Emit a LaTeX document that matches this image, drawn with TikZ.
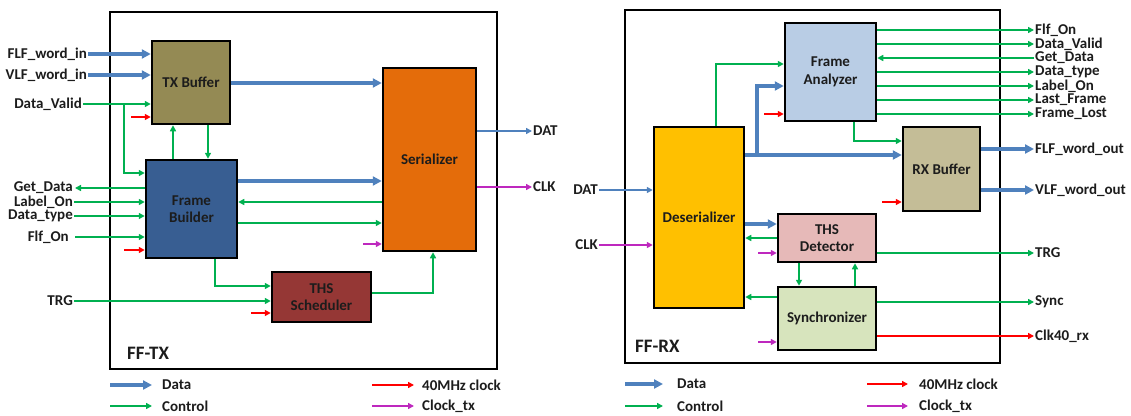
\documentclass[tikz,border=0pt]{standalone}
\usepackage{fontspec}
\setmainfont{Carlito}
\usetikzlibrary{arrows.meta}

\definecolor{ink}{RGB}{28,28,28}
\definecolor{cdata}{RGB}{79,129,189}
\definecolor{cctrl}{RGB}{0,176,80}
\definecolor{cclk}{RGB}{255,0,0}
\definecolor{cclktx}{RGB}{190,40,190}
\definecolor{ftxb}{RGB}{148,138,84}
\definecolor{ffb}{RGB}{56,94,146}
\definecolor{fser}{RGB}{228,108,10}
\definecolor{fths}{RGB}{149,55,53}
\definecolor{ffa}{RGB}{185,205,229}
\definecolor{fdes}{RGB}{255,192,0}
\definecolor{frxb}{RGB}{196,189,151}
\definecolor{fthsd}{RGB}{230,185,184}
\definecolor{fsyn}{RGB}{215,228,189}

\begin{document}
\begin{tikzpicture}[x=1pt,y=-1pt,
  font=\fontsize{15}{17.5}\selectfont\bfseries,
  box/.style={draw=black, line width=2.5pt, text=ink, align=center, inner sep=0pt},
  frame/.style={draw=black, line width=2pt, inner sep=0pt},
  lbl/.style={text=ink, inner sep=1pt},
  title/.style={text=ink, inner sep=0pt, font=\fontsize{19}{22}\selectfont\bfseries},
  data/.style={draw=cdata, line width=3.2pt, -{Triangle[length=9pt,width=9pt]}},
  datathin/.style={draw=cdata, line width=1.5pt, -{Triangle[length=6pt,width=6pt]}},
  ctrl/.style={draw=cctrl, line width=1.5pt, -{Triangle[length=6pt,width=6pt]}},
  clkforty/.style={draw=cclk, line width=1.5pt, -{Triangle[length=6pt,width=6pt]}},
  clktx/.style={draw=cclktx, line width=1.5pt, -{Triangle[length=6pt,width=6pt]}}]

\path[use as bounding box] (0,0) rectangle (1131,415);

% ---------------- FF-TX ----------------
\node[frame, minimum width=387pt, minimum height=357pt] (fftx) at (303.5,190.5) {};
\node[title, anchor=west] (fftxt) at (127,353) {FF-TX};

\node[box, fill=ftxb, minimum width=78pt, minimum height=83pt] (txb) at (191,82.5) {TX Buffer};
\node[box, fill=ffb, minimum width=91pt, minimum height=98pt] (fb) at (191.5,209) {Frame\\Builder};
\node[box, fill=fser, minimum width=93pt, minimum height=183pt] (ser) at (429.5,159.5) {Serializer};
\node[box, fill=fths, minimum width=99pt, minimum height=50pt] (ths) at (321.5,297) {THS\\Scheduler};

% inputs of the TX buffer
\node[lbl, anchor=east] (flfin) at (88,54) {FLF\_word\_in};
\node[lbl, anchor=east] (vlfin) at (88,75) {VLF\_word\_in};
\node[lbl, anchor=east] (dvin) at (83,104) {Data\_Valid};
\draw[data] (flfin.east) -- (flfin.east -| txb.west);
\draw[data] (vlfin.east) -- (vlfin.east -| txb.west);
\draw[ctrl] (dvin.east) -- (dvin.east -| txb.west);
\coordinate (dvbranch) at (124,104);
\draw[ctrl] (dvbranch) |- (fb.west |- 0,173);
\coordinate (clkA) at (131,117);
\draw[clkforty] (clkA) -- (clkA -| txb.west);

% TX buffer <-> frame builder
\draw[ctrl] (fb.north -| 173,0) -- (txb.south -| 173,0);
\draw[ctrl] (txb.south -| 208,0) -- (fb.north -| 208,0);
\draw[data] (txb.east |- 0,83) -- (ser.west |- 0,83);

% frame builder ports
\node[lbl, anchor=east] (gdout) at (74,188) {Get\_Data};
\node[lbl, anchor=east] (lonin) at (74,202) {Label\_On};
\node[lbl, anchor=east] (dtin) at (74,216) {Data\_type};
\node[lbl, anchor=east] (flfon) at (70,237) {Flf\_On};
\draw[ctrl] (fb.west |- gdout.east) -- ([xshift=1pt]gdout.east);
\draw[ctrl] (lonin.east) -- (lonin.east -| fb.west);
\draw[ctrl] (dtin.east) -- (dtin.east -| fb.west);
\draw[ctrl] ([xshift=5pt]flfon.east) -- (flfon.east -| fb.west);
\coordinate (clkB) at (124,250);
\draw[clkforty] (clkB) -- (clkB -| fb.west);

% frame builder <-> serializer
\draw[data] (fb.east |- 0,181) -- (ser.west |- 0,181);
\draw[ctrl] (ser.west |- 0,202) -- (fb.east |- 0,202);
\draw[ctrl] (fb.east |- 0,223) -- (ser.west |- 0,223);
\coordinate (txclkA) at (363,244);
\draw[clktx] (txclkA) -- (txclkA -| ser.west);

% THS scheduler
\draw[ctrl] (fb.south -| 215,0) |- (ths.west |- 0,286);
\node[lbl, anchor=east] (trgin) at (74,301) {TRG};
\draw[ctrl] (trgin.east) -- (trgin.east -| ths.west);
\coordinate (clkC) at (251,313);
\draw[clkforty] (clkC) -- (clkC -| ths.west);
\draw[ctrl] (ths.east |- 0,293) -| (ser.south -| 433,0);

% serializer outputs
\node[lbl, anchor=west] (datout) at (532,131) {DAT};
\node[lbl, anchor=west] (clkout) at (532,187) {CLK};
\draw[datathin] (ser.east |- datout.west) -- (datout.west);
\draw[clktx] (ser.east |- clkout.west) -- (clkout.west);

% ---------------- FF-RX ----------------
\node[frame, minimum width=375pt, minimum height=353pt] (ffrx) at (812.5,186.5) {};
\node[title, anchor=west] (ffrxt) at (635,346) {FF-RX};

\node[box, fill=ffa, minimum width=91pt, minimum height=98pt] (fa) at (830.5,72) {Frame\\Analyzer};
\node[box, fill=fdes, minimum width=90pt, minimum height=181pt] (des) at (699,217.5) {Deserializer};
\node[box, fill=frxb, minimum width=77pt, minimum height=84pt] (rxb) at (941.5,169) {RX Buffer};
\node[box, fill=fthsd, minimum width=98pt, minimum height=48pt] (thsd) at (827,238) {THS\\Detector};
\node[box, fill=fsyn, minimum width=98pt, minimum height=63pt] (syn) at (827,318.5) {Synchronizer};

% deserializer inputs
\node[lbl, anchor=east] (datin) at (599,190) {DAT};
\node[lbl, anchor=east] (clkin) at (599,245) {CLK};
\draw[datathin] (datin.east) -- (datin.east -| des.west);
\draw[clktx] (clkin.east) -- (clkin.east -| des.west);

% deserializer -> frame analyzer / RX buffer
\draw[ctrl] (des.north -| 716,0) |- (fa.west |- 0,64);
\draw[data] (des.east |- 0,155) -- (rxb.west |- 0,155);
\coordinate (dbranch) at (757,155);
\draw[data] (dbranch) |- (fa.west |- 0,86);
\coordinate (clkD) at (764,114);
\draw[clkforty] (clkD) -- (clkD -| fa.west);
\draw[ctrl] (fa.south -| 854,0) |- (rxb.west |- 0,141);

% frame analyzer status lines
\foreach \yy/\tt in {30/Flf\_On, 44/Data\_Valid, 72/Data\_type, 86/Label\_On, 100/Last\_Frame, 114/Frame\_Lost}{
  \node[lbl, anchor=west] (st\yy) at (1034,\yy) {\tt};
  \draw[ctrl] (fa.east |- st\yy.west) -- (st\yy.west);
}
\node[lbl, anchor=west] (gdin) at (1034,58) {Get\_Data};
\draw[ctrl] (gdin.west) -- (gdin.west -| fa.east);

% RX buffer outputs
\node[lbl, anchor=west] (flfout) at (1034,149) {FLF\_word\_out};
\node[lbl, anchor=west] (vlfout) at (1034,190) {VLF\_word\_out};
\draw[data] (rxb.east |- flfout.west) -- (flfout.west);
\draw[data] (rxb.east |- vlfout.west) -- (vlfout.west);
\coordinate (clkE) at (882,202);
\draw[clkforty] (clkE) -- (clkE -| rxb.west);

% THS detector and synchronizer
\draw[data] (des.east |- 0,224) -- (thsd.west |- 0,224);
\draw[ctrl] (thsd.west |- 0,238) -- (des.east |- 0,238);
\coordinate (txclkB) at (758,253);
\draw[clktx] (txclkB) -- (txclkB -| thsd.west);
\draw[ctrl] (thsd.south -| 799,0) -- (syn.north -| 799,0);
\draw[ctrl] (syn.north -| 855,0) -- (thsd.south -| 855,0);
\draw[ctrl] (syn.west |- 0,297) -- (des.east |- 0,297);
\coordinate (txclkC) at (758,342);
\draw[clktx] (txclkC) -- (txclkC -| syn.west);

\node[lbl, anchor=west] (trgout) at (1034,253) {TRG};
\node[lbl, anchor=west] (syncout) at (1034,302) {Sync};
\node[lbl, anchor=west] (clkrx) at (1034,336) {Clk40\_rx};
\draw[ctrl] (thsd.east |- trgout.west) -- (trgout.west);
\draw[ctrl] (syn.east |- syncout.west) -- (syncout.west);
\draw[clkforty] (syn.east |- clkrx.west) -- (clkrx.west);

% ---------------- legends ----------------
\coordinate (lgA1) at (110,385); \coordinate (lgA2) at (152,385);
\coordinate (lgB1) at (110,406); \coordinate (lgB2) at (152,406);
\coordinate (lgC1) at (372,385); \coordinate (lgC2) at (414,385);
\coordinate (lgD1) at (372,406); \coordinate (lgD2) at (414,406);
\draw[data] (lgA1) -- (lgA2);
\draw[ctrl] (lgB1) -- (lgB2);
\draw[clkforty] (lgC1) -- (lgC2);
\draw[clktx] (lgD1) -- (lgD2);
\node[lbl, anchor=west] (lgAt) at (161,385) {Data};
\node[lbl, anchor=west] (lgBt) at (161,406) {Control};
\node[lbl, anchor=west] (lgCt) at (421,385) {40MHz clock};
\node[lbl, anchor=west] (lgDt) at (421,406) {Clock\_tx};

\coordinate (rgA1) at (625,384); \coordinate (rgA2) at (663,384);
\coordinate (rgB1) at (625,406); \coordinate (rgB2) at (663,406);
\coordinate (rgC1) at (867,384); \coordinate (rgC2) at (908,384);
\coordinate (rgD1) at (867,406); \coordinate (rgD2) at (908,406);
\draw[data] (rgA1) -- (rgA2);
\draw[ctrl] (rgB1) -- (rgB2);
\draw[clkforty] (rgC1) -- (rgC2);
\draw[clktx] (rgD1) -- (rgD2);
\node[lbl, anchor=west] (rgAt) at (676,384) {Data};
\node[lbl, anchor=west] (rgBt) at (676,406) {Control};
\node[lbl, anchor=west] (rgCt) at (918,384) {40MHz clock};
\node[lbl, anchor=west] (rgDt) at (918,406) {Clock\_tx};

\end{tikzpicture}
\end{document}
